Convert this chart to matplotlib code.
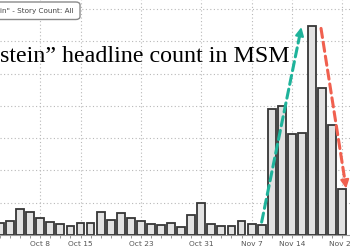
import matplotlib
matplotlib.use("Agg")
import matplotlib.pyplot as plt
from matplotlib.patches import FancyBboxPatch

# Bond-market business days, Oct 2 - Nov 21
dates = ["Oct 2", "Oct 3", "Oct 4", "Oct 7", "Oct 8", "Oct 9", "Oct 10", "Oct 11",
         "Oct 15", "Oct 16", "Oct 17", "Oct 18", "Oct 21", "Oct 22", "Oct 23",
         "Oct 24", "Oct 25", "Oct 28", "Oct 29", "Oct 30", "Oct 31", "Nov 1",
         "Nov 4", "Nov 5", "Nov 6", "Nov 7", "Nov 8", "Nov 12", "Nov 13",
         "Nov 14", "Nov 15", "Nov 18", "Nov 19", "Nov 20", "Nov 21"]
story_count = [19, 21, 40, 36, 26, 20, 17, 14,
               18, 19, 35, 24, 34, 26, 21,
               17, 15, 19, 13, 31, 49, 17,
               14, 14, 21, 17, 15, 195, 200,
               156, 158, 324, 227, 171, 71]
tick_labels = ["Oct 8", "Oct 15", "Oct 23", "Oct 31", "Nov 7", "Nov 14", "Nov 21"]
title_text = "stein\u201d headline count in MSM"
legend_text = 'in" - Story Count: All'

fig = plt.figure(figsize=(3.5, 2.5), dpi=100)
ax = fig.add_axes([0, 15 / 250, 1, 235 / 250])

x = list(range(len(dates)))
ax.bar(x, story_count, width=0.78, color="#e2e2e2", edgecolor="#363636",
       linewidth=1.3, zorder=3)

ax.set_xlim(0.2, 34.78)
ax.set_ylim(0, 364)

tick_pos = [dates.index(t) for t in tick_labels]
ax.set_xticks(tick_pos)
ax.set_xticklabels(tick_labels, fontsize=5.4, color="#555555")
ax.set_xticks(x, minor=True)
ax.tick_params(axis="x", which="major", length=2.5, width=0.6, color="#888888", pad=1.5)
ax.tick_params(axis="x", which="minor", length=2, width=0.6, color="#888888")
ax.set_yticks(range(0, 364, 50))
ax.tick_params(axis="y", left=False, labelleft=False)

ax.grid(True, which="major", color="#b8b8b8", linestyle=(0, (1, 2.2)), linewidth=0.8, zorder=0)
for s in ["top", "left", "right"]:
    ax.spines[s].set_visible(False)
ax.spines["bottom"].set_color("#999999")
ax.spines["bottom"].set_linewidth(0.8)

# Title (cropped)
fig.text(0.0, 1 - 62 / 250, title_text, fontsize=17.3, family="Liberation Serif",
         color="black", va="baseline", ha="left")

# Legend box (cropped)
box = FancyBboxPatch((-20 / 350, 1 - 19.5 / 250), 100 / 350, 17.5 / 250,
                     boxstyle="round,pad=0,rounding_size=0.012",
                     transform=fig.transFigure, facecolor="white",
                     edgecolor="#8a8a8a", linewidth=1.0, zorder=5)
fig.patches.append(box)
fig.text(0.0, 1 - 11 / 250, legend_text, fontsize=5.2, color="#444444",
         va="center", ha="left", zorder=6)

# Trend arrows
green = "#1fb39b"
red = "#f0604f"
def dashed_arrow(x0, y0, x1, y1, color):
    ax.annotate("", xy=(x1, y1), xytext=(x0, y0),
                arrowprops=dict(arrowstyle="-", color=color, lw=2.2,
                                linestyle=(0, (3, 1.6)), shrinkA=0, shrinkB=3),
                zorder=6)
    ax.annotate("", xy=(x1, y1), xytext=(x0 + (x1 - x0) * 0.97, y0 + (y1 - y0) * 0.97),
                arrowprops=dict(arrowstyle="-|>,head_length=0.5,head_width=0.25",
                                color=color, lw=1.5, shrinkA=0, shrinkB=0,
                                mutation_scale=10),
                zorder=6)

dashed_arrow(26.0, 20, 29.95, 322, green)
dashed_arrow(31.9, 320, 34.4, 72, red)

fig.savefig("out.png", dpi=100)
